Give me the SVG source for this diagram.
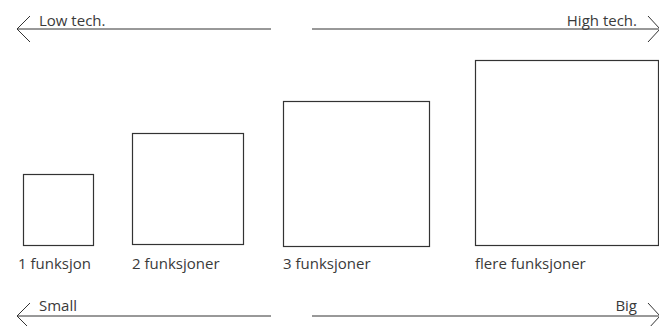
<svg xmlns="http://www.w3.org/2000/svg" width="659" height="326" viewBox="0 0 659 326">
<style>
.box{fill:#fff;stroke:#333;stroke-width:1.2}
.ln{fill:none;stroke:#333;stroke-width:1}
text{font-family:"Open Sans","Noto Sans",sans-serif;font-size:15px;fill:#3a3a3a}
</style>
<rect width="659" height="326" fill="#fff"/>
<g id="connectors">
<path class="ln" d="M17 29 H271 M30 16 L17 29 L30 42"/>
<path class="ln" d="M312 29 H659 M648 16 L660 29 L648 42"/>
<path class="ln" d="M17 316 H271 M30 303 L17 316 L30 329"/>
<path class="ln" d="M312 316 H659 M648 303 L660 316 L648 329"/>
</g>
<g id="axis-labels">
<text x="39" y="26">Low tech.</text>
<text x="637" y="26" text-anchor="end">High tech.</text>
<text x="39" y="311">Small</text>
<text x="637" y="311" text-anchor="end">Big</text>
</g>
<g id="n1"><rect class="box" x="23.5" y="174.5" width="70" height="71"/><text x="18" y="269">1 funksjon</text></g>
<g id="n2"><rect class="box" x="132.5" y="133.5" width="111" height="111"/><text x="132" y="269">2 funksjoner</text></g>
<g id="n3"><rect class="box" x="283.5" y="101.5" width="146" height="145"/><text x="283" y="269">3 funksjoner</text></g>
<g id="n4"><rect class="box" x="475.5" y="60.5" width="183" height="185"/><text x="475" y="269">flere funksjoner</text></g>
</svg>
